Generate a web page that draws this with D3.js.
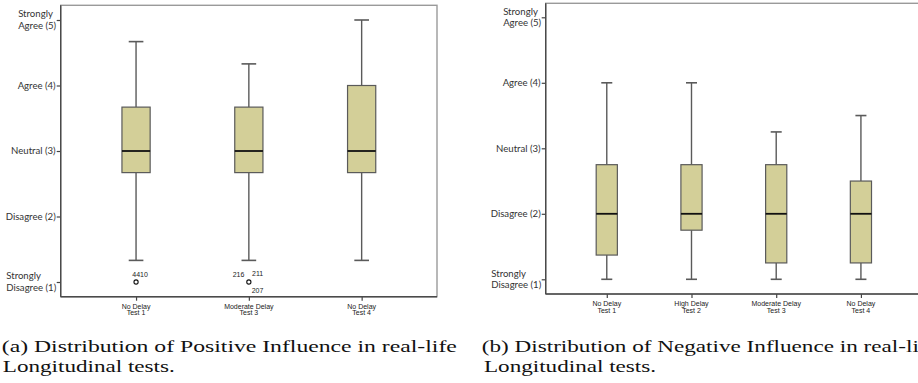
<!DOCTYPE html>
<html>
<head>
<meta charset="utf-8">
<script src="https://cdn.jsdelivr.net/npm/d3@7"></script>
<style>
  html, body { margin: 0; padding: 0; background: #fff; }
  svg { display: block; }
</style>
</head>
<body>
<svg id="fig" width="918" height="383"></svg>
<script>
// Likert scale shared by both panels
const scaleLevels = [1, 2, 3, 4, 5];
const scaleLabels = [
  ["Strongly", "Disagree (1)"],
  ["Disagree (2)"],
  ["Neutral (3)"],
  ["Agree (4)"],
  ["Strongly", "Agree (5)"]
];

// (a) Positive influence
const categoriesA = [["No Delay", "Test 1"], ["Moderate Delay", "Test 3"], ["No Delay", "Test 4"]];
const whiskerLowA = [1.33, 1.33, 1.33];
const q1A = [2.67, 2.67, 2.67];
const medianA = [3, 3, 3];
const q3A = [3.67, 3.67, 4];
const whiskerHighA = [4.67, 4.33, 5];
const outlierGroupA = [0, 1];
const outlierValueA = [1, 1];
const outlierIdsA = [["4410"], ["216", "211", "207"]];

// (b) Negative influence
const categoriesB = [["No Delay", "Test 1"], ["High Delay", "Test 2"], ["Moderate Delay", "Test 3"], ["No Delay", "Test 4"]];
const whiskerLowB = [1, 1, 1, 1];
const q1B = [1.37, 1.75, 1.25, 1.25];
const medianB = [2, 2, 2, 2];
const q3B = [2.75, 2.75, 2.75, 2.5];
const whiskerHighB = [4, 4, 3.25, 3.5];

const captionA = ["(a) Distribution of Positive Influence in real-life", "Longitudinal tests."];
const captionB = ["(b) Distribution of Negative Influence in real-life", "Longitudinal tests."];

const svg = d3.select("#fig");
svg.append("rect").attr("width", 918).attr("height", 383).attr("fill", "#fff");

const BOX_FILL = "#d3cf98";
const BOX_STROKE = "#5a5a5a";

// where each outlier id sits relative to its circle
const idPlacement = {
  "4410": { dx: -3.8, dy: -5, anchor: "start" },
  "216": { dx: -4.5, dy: -5, anchor: "end" },
  "211": { dx: 3.2, dy: -6, anchor: "start" },
  "207": { dx: 2.8, dy: 10.5, anchor: "start" }
};

function drawPanel(cfg) {
  const g = svg.append("g");
  const { left, right, top, bottom } = cfg.frame;

  const y = d3.scaleLinear()
    .domain([1, 5])
    .range([cfg.yAt1, cfg.yAt5]);

  const keys = cfg.categories.map((c, i) => i);
  const x = d3.scalePoint()
    .domain(keys)
    .range([left, right])
    .padding(cfg.padding);
  const step = x.step();
  const boxW = step * 0.25;
  const capW = step * 0.13;

  // frame
  g.append("rect")
    .attr("x", left).attr("y", top)
    .attr("width", right - left).attr("height", bottom - top)
    .attr("fill", "none").attr("stroke", "#9a9a9a").attr("stroke-width", 1.4);

  // y axis
  const yAxis = d3.axisLeft(y)
    .tickValues(scaleLevels)
    .tickSize(4)
    .tickFormat("");
  const ya = g.append("g").attr("transform", `translate(${left},0)`).call(yAxis);
  ya.select(".domain").remove();
  ya.selectAll(".tick line").attr("stroke", "#444").attr("stroke-width", 1.2);
  g.append("line")
    .attr("x1", left).attr("x2", left)
    .attr("y1", top).attr("y2", bottom)
    .attr("stroke", "#4a4a4a").attr("stroke-width", 1.4);

  // y labels (two-line labels are left-aligned as a block)
  scaleLevels.forEach((v, i) => {
    const lines = scaleLabels[i];
    const t = g.append("text")
      .attr("font-family", "Lato, 'Open Sans', sans-serif")
      .attr("font-size", 9.6)
      .attr("fill", "#333");
    if (lines.length === 1) {
      t.attr("x", left - 5).attr("y", y(v)).attr("dy", "0.35em")
        .attr("text-anchor", "end").text(lines[0]);
    } else {
      t.attr("text-anchor", "start");
      const spans = lines.map((ln, k) =>
        t.append("tspan").attr("x", 0)
          .attr("y", y(v) + (k === 0 ? -6 : 5.8)).attr("dy", "0.35em").text(ln));
      const w = d3.max(spans, s => s.node().getComputedTextLength());
      spans.forEach(s => s.attr("x", left - 4.5 - w));
    }
  });

  // x axis
  const xAxis = d3.axisBottom(x).tickSize(4).tickFormat("");
  const xa = g.append("g").attr("transform", `translate(0,${bottom})`).call(xAxis);
  xa.select(".domain").remove();
  xa.selectAll(".tick line").attr("stroke", "#444").attr("stroke-width", 1.2);
  g.append("line")
    .attr("x1", left).attr("x2", right)
    .attr("y1", bottom).attr("y2", bottom)
    .attr("stroke", "#4a4a4a").attr("stroke-width", 1.4);

  cfg.categories.forEach((lines, i) => {
    const t = g.append("text")
      .attr("font-family", "'Liberation Sans', Arial, sans-serif")
      .attr("font-size", 7)
      .attr("fill", "#222")
      .attr("text-anchor", "middle");
    lines.forEach((ln, k) => {
      t.append("tspan")
        .attr("x", x(i))
        .attr("y", bottom + cfg.xLabelOffsets[k])
        .attr("dy", "0.35em")
        .text(ln);
    });
  });

  // boxes
  keys.forEach(i => {
    const cx = x(i);
    const bg = g.append("g");
    bg.append("line")
      .attr("x1", cx).attr("x2", cx)
      .attr("y1", y(cfg.q3[i])).attr("y2", y(cfg.hi[i]))
      .attr("stroke", BOX_STROKE).attr("stroke-width", 1.4);
    bg.append("line")
      .attr("x1", cx).attr("x2", cx)
      .attr("y1", y(cfg.q1[i])).attr("y2", y(cfg.lo[i]))
      .attr("stroke", BOX_STROKE).attr("stroke-width", 1.4);
    [cfg.hi[i], cfg.lo[i]].forEach(v => {
      bg.append("line")
        .attr("x1", cx - capW / 2).attr("x2", cx + capW / 2)
        .attr("y1", y(v)).attr("y2", y(v))
        .attr("stroke", BOX_STROKE).attr("stroke-width", 1.6);
    });
    bg.append("rect")
      .attr("x", cx - boxW / 2).attr("y", y(cfg.q3[i]))
      .attr("width", boxW).attr("height", y(cfg.q1[i]) - y(cfg.q3[i]))
      .attr("fill", BOX_FILL).attr("stroke", BOX_STROKE).attr("stroke-width", 1.2);
    bg.append("line")
      .attr("x1", cx - boxW / 2).attr("x2", cx + boxW / 2)
      .attr("y1", y(cfg.median[i])).attr("y2", y(cfg.median[i]))
      .attr("stroke", "#111").attr("stroke-width", 1.8);
  });

  // outliers
  (cfg.outGroup || []).forEach((gi, j) => {
    const cx = x(gi), cy = y(cfg.outValue[j]);
    g.append("circle")
      .attr("cx", cx).attr("cy", cy).attr("r", 2.1)
      .attr("fill", "#fff").attr("stroke", "#111").attr("stroke-width", 1.1);
    cfg.outIds[j].forEach(id => {
      const p = idPlacement[id];
      g.append("text")
        .attr("x", cx + p.dx).attr("y", cy + p.dy)
        .attr("text-anchor", p.anchor)
        .attr("font-family", "'Liberation Sans', Arial, sans-serif")
        .attr("font-size", 7)
        .attr("fill", "#222")
        .text(id);
    });
  });
}

drawPanel({
  frame: { left: 60.7, right: 437, top: 5.3, bottom: 296.7 },
  yAt1: 282, yAt5: 20,
  padding: 0.668,
  categories: categoriesA,
  lo: whiskerLowA, q1: q1A, median: medianA, q3: q3A, hi: whiskerHighA,
  outGroup: outlierGroupA, outValue: outlierValueA, outIds: outlierIdsA,
  xLabelOffsets: [10.1, 16.0]
});

drawPanel({
  frame: { left: 545.7, right: 922, top: 3.3, bottom: 294 },
  yAt1: 279.3, yAt5: 17.3,
  padding: 0.721,
  categories: categoriesB,
  lo: whiskerLowB, q1: q1B, median: medianB, q3: q3B, hi: whiskerHighB,
  xLabelOffsets: [9.7, 17.0]
});

// captions
function caption(lines, x0, x1) {
  const t = svg.append("g")
    .attr("font-family", "'Liberation Serif', 'Times New Roman', serif")
    .attr("font-size", 16)
    .attr("fill", "#111");
  t.append("text")
    .attr("x", x0).attr("y", 352)
    .attr("textLength", 455).attr("lengthAdjust", "spacingAndGlyphs")
    .text(lines[0]);
  t.append("text")
    .attr("x", x1).attr("y", 372)
    .attr("textLength", 172).attr("lengthAdjust", "spacingAndGlyphs")
    .text(lines[1]);
}
caption(captionA, 1.8, 2.8);
caption(captionB, 481.8, 484);
</script>
</body>
</html>
